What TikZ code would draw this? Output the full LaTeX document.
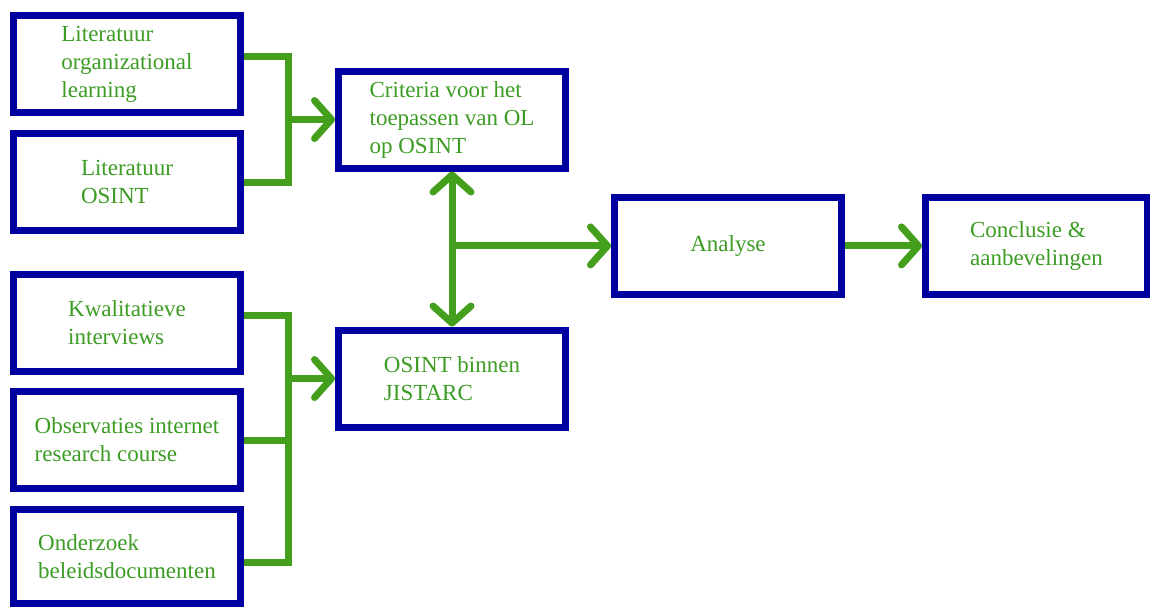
\documentclass[tikz,border=0pt]{standalone}
\usepackage{fontspec}
\setmainfont{Liberation Serif}
\usetikzlibrary{positioning,arrows.meta,calc}
\definecolor{BoxBlue}{HTML}{0000A0}
\definecolor{LineGreen}{HTML}{44A01C}
\definecolor{TextGreen}{HTML}{3C9C24}

\begin{document}
\begin{tikzpicture}[
  stage/.style={draw=BoxBlue, line width=3.5pt, fill=white, text=TextGreen, align=left, minimum width=113.5pt, minimum height=48.5pt, font=\fontsize{11.5}{14}\selectfont},
  link/.style={draw=LineGreen, line width=3.5pt},
  >={Straight Barb[round, length=8.5pt, width=19pt]},
  node distance=7pt]
\useasboundingbox (0,0) rectangle (575pt,-303.5pt);
% sources
\node[stage] (lit1) at (63.5pt,-32pt) {Literatuur\\organizational\\learning};
\node[stage, below=of lit1] (lit2) {Literatuur\\OSINT};
\node[stage, below=18.5pt of lit2] (kwal) {Kwalitatieve\\interviews};
\node[stage, below=6.5pt of kwal] (obs) {Observaties internet\\research course};
\node[stage, below=of obs, minimum height=47pt] (ond) {Onderzoek\\beleidsdocumenten};
% middle column
\coordinate (mu) at ($(lit1.east)!0.5!(lit2.east)$);
\node[stage, right=45.5pt of mu, yshift=1.75pt] (crit) {Criteria voor het\\toepassen van OL\\op OSINT};
\node[stage, below=77.5pt of crit] (osint) {OSINT binnen\\JISTARC};
\coordinate (jm) at ($(crit.south)!0.48!(osint.north)$);
% results
\node[stage, right=79.5pt of jm] (ana) {Analyse};
\node[stage, right=38.5pt of ana, minimum width=111pt] (concl) {Conclusie \&\\aanbevelingen};
% brackets
\coordinate (ju) at ($(crit.west)+(-23.5pt,0)$);
\coordinate (jl) at ($(osint.west)+(-23.5pt,0)$);
\draw[link] ([yshift=4pt]lit1.east) -| (ju) |- (lit2.east);
\draw[link] ([yshift=4pt]kwal.east) -| (jl) |- ([yshift=-3pt]ond.east);
\draw[link] (obs.east) -- (obs.east -| jl);
\foreach \a/\b in {ju/crit,jl/osint,jm/ana,ana/concl}
  \draw[link,->] (\a) -- (\b);
\draw[link,<->] (crit) -- (osint);
\end{tikzpicture}
\end{document}
